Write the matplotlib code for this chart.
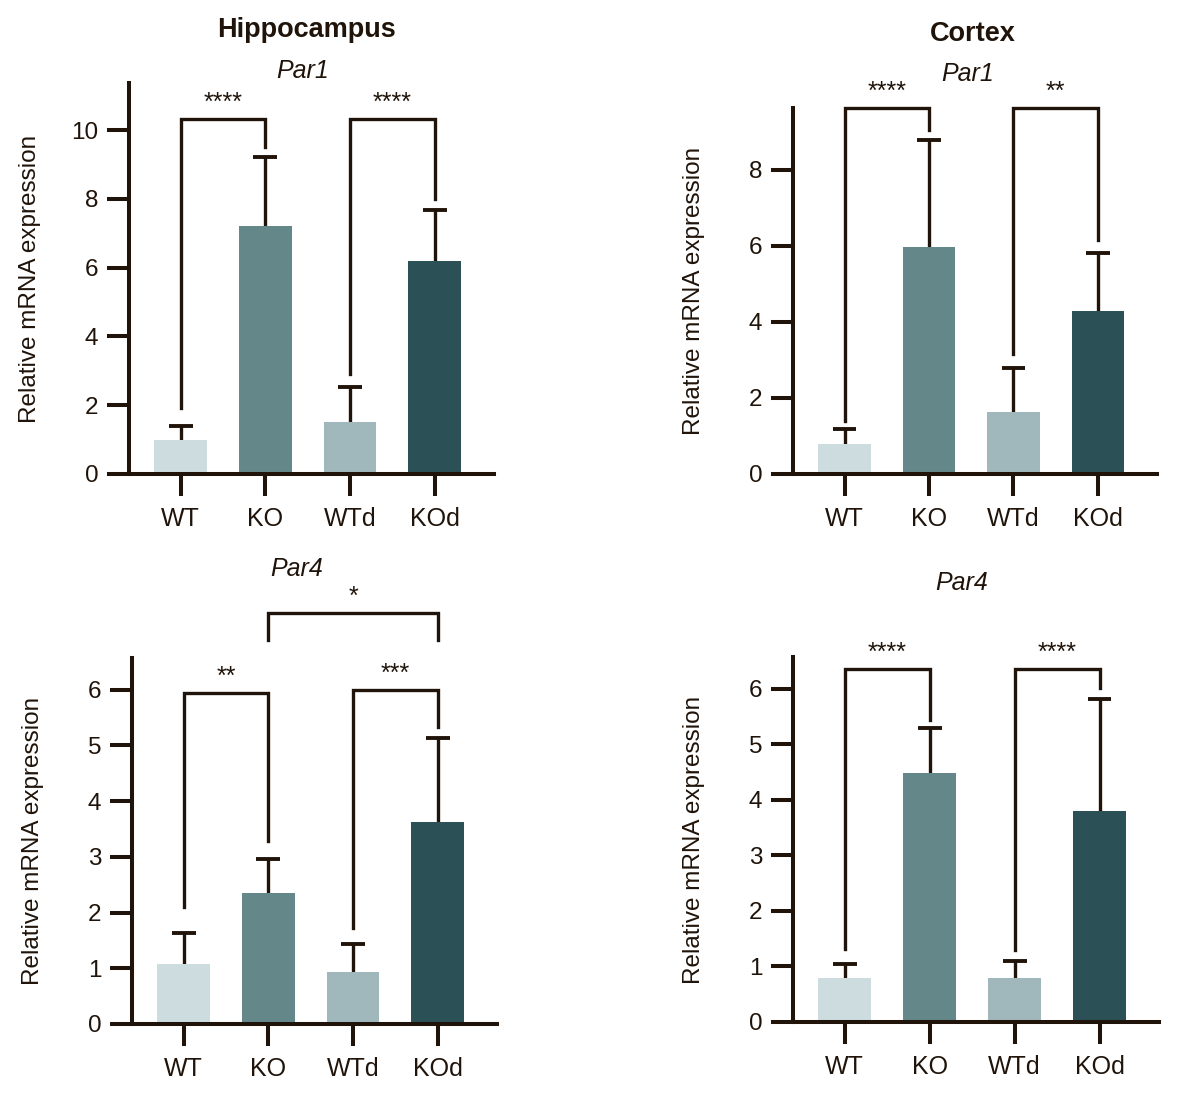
import matplotlib
matplotlib.use("Agg")
from matplotlib import pyplot as plt

plt.rcParams['font.family'] = ['Liberation Sans', 'DejaVu Sans']

groups = ['WT', 'KO', 'WTd', 'KOd']
bar_colors = ['#cddcdf', '#64888a', '#a0b7bb', '#2b5157']
ink = '#20140a'

# mean and upper error (SD)
hip_par1_mean = [1.00, 7.20, 1.52, 6.18]
hip_par1_err = [0.41, 2.01, 1.01, 1.50]
ctx_par1_mean = [0.79, 5.97, 1.64, 4.28]
ctx_par1_err = [0.40, 2.80, 1.15, 1.54]
hip_par4_mean = [1.08, 2.36, 0.94, 3.62]
hip_par4_err = [0.56, 0.60, 0.50, 1.52]
ctx_par4_mean = [0.80, 4.48, 0.80, 3.80]
ctx_par4_err = [0.25, 0.82, 0.29, 2.01]

# brackets: (from, to, top, left leg end, right leg end, label)
hip_par1_sig = [(0, 1, 10.32, 1.92, 9.52, '****'), (2, 3, 10.32, 2.90, 8.00, '****')]
ctx_par1_sig = [(0, 1, 9.62, 1.38, 9.04, '****'), (2, 3, 9.62, 3.15, 6.15, '**')]
hip_par4_sig = [(0, 1, 5.94, 2.10, 3.29, '**'), (2, 3, 5.99, 1.72, 5.34, '***'),
                (1, 3, 7.38, 6.90, 6.90, '*')]
ctx_par4_sig = [(0, 1, 6.36, 1.32, 5.43, '****'), (2, 3, 6.36, 1.29, 6.01, '****')]

W, H = 1187, 1108
fig = plt.figure(figsize=(W / 100, H / 100), dpi=100)


def px_axes(left, right, top, bottom):
    ax = fig.add_axes([left / W, 1 - bottom / H, (right - left) / W, (bottom - top) / H])
    ax._px_width = right - left
    return ax


def panel(ax, mean, err, sig, ytop, yticks):
    x = list(range(len(groups)))
    ax.bar(x, mean, width=0.62, color=bar_colors, zorder=2)
    # upward-only error bars with a cap
    tops = [m + e for m, e in zip(mean, err)]
    ax.vlines(x, mean, tops, color=ink, lw=2.4, zorder=1)
    ax.hlines(tops, [i - 0.14 for i in x], [i + 0.14 for i in x], color=ink, lw=2.8, zorder=1)
    for a, b, top, ya, yb, lab in sig:
        ax.plot([a, a, b, b], [ya, top, top, yb], color=ink, lw=2.4,
                solid_joinstyle='miter', clip_on=False, zorder=3)
        ax.annotate(lab, ((a + b) / 2, top), xytext=(0, 3), textcoords='offset points',
                    ha='center', va='bottom', fontsize=18, color=ink, annotation_clip=False)
    ax.set_xlim(-0.61, 3.7)
    ax.set_ylim(0, ytop)
    ax.set_yticks(yticks)
    ax.set_xticks(x)
    ax.set_xticklabels(groups)
    for s in ['top', 'right']:
        ax.spines[s].set_visible(False)
    for s in ['left', 'bottom']:
        ax.spines[s].set_linewidth(2.9)
        ax.spines[s].set_color(ink)
    ax.tick_params(axis='both', direction='out', length=16, width=2.9, color=ink)
    ax.tick_params(axis='y', labelsize=17.5, pad=6, labelcolor=ink)
    ax.tick_params(axis='x', labelsize=18, pad=8, labelcolor=ink)
    ax.set_ylabel('Relative mRNA expression', fontsize=17.5, color=ink)
    ax.yaxis.set_label_coords(-88 / ax._px_width, 0.5)


ax1 = px_axes(129, 494, 83, 474)
panel(ax1, hip_par1_mean, hip_par1_err, hip_par1_sig, 11.37, [0, 2, 4, 6, 8, 10])
ax2 = px_axes(793, 1157, 108, 474)
panel(ax2, ctx_par1_mean, ctx_par1_err, ctx_par1_sig, 9.62, [0, 2, 4, 6, 8])
ax3 = px_axes(132, 497, 658, 1024)
panel(ax3, hip_par4_mean, hip_par4_err, hip_par4_sig, 6.57, [0, 1, 2, 3, 4, 5, 6])
ax4 = px_axes(793, 1159, 657, 1022)
panel(ax4, ctx_par4_mean, ctx_par4_err, ctx_par4_sig, 6.57, [0, 1, 2, 3, 4, 5, 6])

fig.text(307 / W, 1 - 30 / H, 'Hippocampus', ha='center', va='center',
         fontsize=19.5, fontweight='bold', color=ink)
fig.text(973 / W, 1 - 34 / H, 'Cortex', ha='center', va='center',
         fontsize=19.5, fontweight='bold', color=ink)
fig.text(303 / W, 1 - 71 / H, 'Par1', ha='center', va='center',
         fontsize=18, style='italic', color=ink)
fig.text(968 / W, 1 - 74 / H, 'Par1', ha='center', va='center',
         fontsize=18, style='italic', color=ink)
fig.text(297 / W, 1 - 569 / H, 'Par4', ha='center', va='center',
         fontsize=18, style='italic', color=ink)
fig.text(962 / W, 1 - 583 / H, 'Par4', ha='center', va='center',
         fontsize=18, style='italic', color=ink)

fig.savefig('out.png', dpi=100)
